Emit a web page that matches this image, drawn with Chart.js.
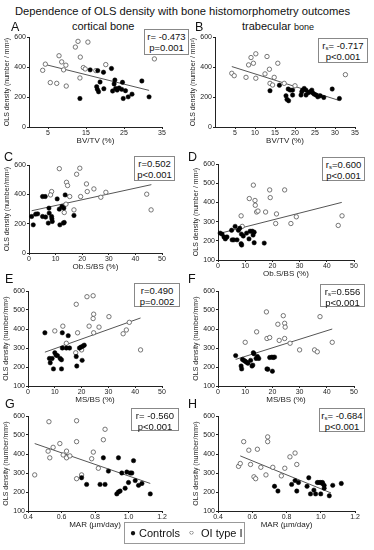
<!DOCTYPE html>
<html><head><meta charset="utf-8">
<script src="https://cdn.jsdelivr.net/npm/chart.js@4.4.0/dist/chart.umd.min.js"></script>
<style>
body{margin:0;background:#fff;width:374px;height:550px;position:relative;overflow:hidden;font-family:"Liberation Sans",Arial,sans-serif;color:#111;}
.abs{position:absolute;white-space:nowrap;line-height:1;}
canvas{position:absolute;}
.box{position:absolute;border:1px solid #888;background:#fff;font-size:9.5px;line-height:11px;text-align:center;box-sizing:border-box;padding-top:1px;white-space:nowrap;}
.box sub{font-size:6px;vertical-align:-1px;line-height:0;}
</style></head><body>
<script>
// ---------- data ----------
const aControls=[[13.4,190],[16.1,381],[18.1,376],[19.6,365],[17.8,269],[18,251],[18.3,235],[18.7,300],[19.7,255],[21.7,390],[22,240],[22.4,287],[22.6,313],[22.8,257],[23.2,246],[23.7,260],[24.4,251],[24.6,298],[24.8,190],[25.4,242],[26.1,201],[27.1,219],[29.7,307],[31.6,201]];
const aOI=[[3.6,378],[4.3,419],[5.6,296],[7.3,291],[7.9,475],[8.6,434],[9.1,381],[9.7,412],[9.8,273],[12.2,533],[12.9,571],[13.5,466],[13.4,327],[14.3,396],[14.8,387],[15.5,566],[17.6,376],[20.2,416],[33,454]];
const aFit=[[3.9,419],[31.6,244]];

const bControls=[[13.75,242],[16.1,278],[17.75,208],[18,184],[18.4,175],[18.3,253],[18.8,246],[19.4,213],[19.4,246],[21.5,213],[21.7,235],[21.9,246],[22.3,257],[22.75,246],[22.75,213],[23.3,228],[23.8,235],[24.2,246],[24.4,228],[24.8,219],[25.25,213],[25.7,201],[26.3,208],[27.2,197],[29.3,253],[31.1,190]];
const bOI=[[4.2,358],[4.8,342],[7.75,331],[8.4,414],[9,463],[9.6,425],[10.2,488],[10.2,325],[13,470],[12.5,354],[13.6,385],[13.75,291],[14.4,280],[14.8,331],[15.7,425],[17.3,291],[20,275],[32.6,349]];
const bFit=[[4.2,403],[30.8,179]];

const cControls=[[1,249],[1.6,192],[2.5,265],[3.25,267],[5.1,385],[5.1,249],[6.1,385],[6.25,245],[7.5,306],[7.6,272],[7.25,204],[8.5,249],[8.6,233],[8.75,215],[10.6,369],[11.4,299],[11.6,192],[12.4,317],[12.9,204],[13.1,306],[13.25,208],[13.6,396],[16.9,256]];
const cOI=[[11.4,575],[19.1,578],[8.5,419],[8.1,396],[14.1,482],[14.5,460],[17.9,537],[15.3,385],[19.4,385],[21.6,471],[21.9,419],[24.4,437],[27,380],[28.9,414],[13.9,333],[13.25,276],[16.9,294],[44.25,401],[45.9,294]];
const cFit=[[1,288],[46,466]];

const dControls=[[0.8,240],[1.5,235],[2.2,220],[2.7,210],[3.3,220],[5.2,205],[5.8,205],[5,255],[6.3,275],[7,205],[7.5,255],[8,265],[8.5,185],[8.7,178],[8.6,235],[9.3,225],[10.5,240],[11.4,210],[11.8,250],[12.6,250],[12.9,230],[13.3,245],[13.3,190],[17,188]];
const dOI=[[8.5,330],[8.9,275],[13,490],[11.5,420],[13.6,410],[13.7,385],[14.2,350],[14.7,355],[17.5,350],[19,465],[19.2,425],[21.5,340],[21.2,290],[24.5,465],[26.8,290],[28.8,325],[44.2,280],[45.6,330]];
const dFit=[[1,240],[45.5,400]];

const eControls=[[6.3,380],[8,245],[8.3,222],[9,245],[9.5,190],[10,275],[10.5,262],[11,260],[12,245],[12.5,238],[12.5,190],[12.8,380],[12.8,300],[15,365],[14.3,300],[18,255],[18.2,205],[19.2,300],[19.8,305],[20.5,310],[21,315],[20.2,235],[15.5,300]];
const eOI=[[10,390],[13,415],[13.7,305],[14.3,325],[18,530],[22,570],[24.3,575],[22.8,415],[24.5,478],[24.3,455],[24.5,380],[26.5,410],[30.2,465],[35.5,375],[36.7,395],[37.8,435],[42,290],[18.5,380],[17.8,275],[19.8,300],[20,290]];
const eFit=[[6.3,278],[42,458]];

const fControls=[[6.5,260],[8.5,205],[8.7,190],[9,240],[9.5,235],[10,230],[10.5,225],[11,220],[12,235],[12.5,205],[12.8,210],[13,275],[13.2,270],[14.5,255],[15,245],[18,190],[18.3,188],[19,250],[19.8,252],[20.3,250],[20.8,252],[20,178],[14,245]];
const fOI=[[10,330],[14.2,385],[17.8,490],[18,350],[19,355],[22,425],[22.5,340],[24,470],[24.5,430],[24.7,410],[24.5,350],[26.5,325],[30,290],[35.5,290],[36.5,280],[37.5,465],[42,330]];
const fFit=[[6.5,240],[42,400]];

const gControls=[[0.72,275],[0.75,240],[0.83,240],[0.85,380],[0.86,240],[0.88,310],[0.94,380],[0.93,190],[0.94,200],[0.96,300],[0.98,220],[0.99,305],[1.0,250],[1.01,300],[1.02,300],[1.03,365],[1.04,260],[1.06,235],[1.08,245],[1.13,190],[0.95,205]];
const gOI=[[0.44,290],[0.525,570],[0.59,455],[0.55,435],[0.52,415],[0.53,380],[0.61,395],[0.63,415],[0.63,380],[0.65,390],[0.69,575],[0.69,465],[0.69,270],[0.72,290],[0.78,375],[0.79,410],[0.82,325],[0.86,530],[0.85,475]];
const gFit=[[0.44,455],[1.13,245]];

const hControls=[[0.73,230],[0.75,205],[0.83,240],[0.85,260],[0.86,205],[0.87,250],[0.92,230],[0.93,275],[0.94,190],[0.96,210],[0.97,190],[0.98,250],[0.99,250],[1.0,250],[1.0,190],[1.01,250],[1.02,235],[1.05,180],[1.07,235],[1.12,245],[1.01,245],[1.02,220]];
const hOI=[[0.52,335],[0.53,350],[0.55,465],[0.58,420],[0.59,345],[0.61,280],[0.63,425],[0.62,270],[0.65,330],[0.68,290],[0.69,490],[0.69,465],[0.72,330],[0.77,285],[0.79,325],[0.82,385],[0.85,405],[0.86,345]];
const hFit=[[0.53,390],[1.06,195]];

const xTicksBV=[5,15,25,35];
const xTicksBVb=[5,10,15,20,25,30,35];
const xTicksPct=[0,10,20,30,40,50];
const xTicksMAR=[0.4,0.6,0.8,1.0,1.2];
const yTicks0=[0,200,400,600];
const yTicks100=[100,200,300,400,500,600];

// ---------- layout ----------
const panels=[
 {L:29,R:162,T:37,B:127,xr:[0,35],xt:xTicksBV,yr:[0,600],yt:yTicks0,xTitle:'BV/TV (%)',yTitle:'OLS density (number / mm²)',c:aControls,o:aOI,f:aFit,lab:'A',lx:11,ly:21,stat:['r= -0.473','p=0.001'],bx:[144,29,45,26]},
 {L:215,R:355,T:37,B:127,xr:[0,35],xt:xTicksBVb,yr:[0,600],yt:yTicks0,xTitle:'BV/TV (%)',yTitle:'OLS density (number / mm²)',c:bControls,o:bOI,f:bFit,lab:'B',lx:195,ly:21,stat:['r<sub>s</sub>= -0.717','p<0.001'],bx:[318,38,50,25]},
 {L:29,R:162,T:165,B:253,xr:[0,50],xt:xTicksPct,yr:[0,600],yt:yTicks0,xTitle:'Ob.S/BS (%)',yTitle:'OLS density (number/mm²)',c:cControls,o:cOI,f:cFit,lab:'C',lx:4,ly:151,stat:['r=0.502','p<0.001'],bx:[134,156,41,25]},
 {L:218,R:354,T:164,B:260,xr:[0,50],xt:xTicksPct,yr:[100,600],yt:yTicks100,xTitle:'Ob.S/BS (%)',yTitle:'OLS density (number / mm²)',c:dControls,o:dOI,f:dFit,lab:'D',lx:188,ly:151,stat:['r<sub>s</sub>=0.600','p<0.001'],bx:[322,157,43,24]},
 {L:28,R:162,T:291,B:386,xr:[0,50],xt:xTicksPct,yr:[100,600],yt:yTicks100,xTitle:'MS/BS (%)',yTitle:'OLS density (number/mm²)',c:eControls,o:eOI,f:eFit,lab:'E',lx:5,ly:273,stat:['r=0.490','p=0.002'],bx:[134,283,46,24]},
 {L:218,R:354,T:291,B:386,xr:[0,50],xt:xTicksPct,yr:[100,600],yt:yTicks100,xTitle:'MS/BS (%)',yTitle:'OLS density (number/mm²)',c:fControls,o:fOI,f:fFit,lab:'F',lx:188,ly:273,stat:['r<sub>s</sub>=0.556','p<0.001'],bx:[320,284,45,23]},
 {L:28,R:162,T:416,B:511,xr:[0.4,1.2],xt:xTicksMAR,yr:[100,600],yt:yTicks100,xTitle:'MAR (µm/day)',yTitle:'OLS density (number/mm²)',c:gControls,o:gOI,f:gFit,lab:'G',lx:5,ly:398,stat:['r= -0.560','p<0.001'],bx:[131,408,48,23]},
 {L:218,R:355,T:416,B:511,xr:[0.4,1.2],xt:xTicksMAR,yr:[100,600],yt:yTicks100,xTitle:'MAR (µm/day)',yTitle:'OLS density (number/mm²)',c:hControls,o:hOI,f:hFit,lab:'H',lx:188,ly:398,stat:['r<sub>s</sub>= -0.684','p<0.001'],bx:[319,408,46,24]}
];

function addText(html,x,y,size,extra){
  const d=document.createElement('div');d.className='abs';d.innerHTML=html;
  d.style.left=x+'px';d.style.top=y+'px';d.style.fontSize=size+'px';
  if(extra) Object.assign(d.style,extra);
  document.body.appendChild(d);return d;
}

addText('Dependence of OLS density with bone histomorphometry outcomes',15,6,11.2);
addText('cortical bone',72,21,11);
addText('trabecular <span style="font-size:9px">bone</span>',242,21,11);

const YW=29,PT=6,PR=9,XH=20;
const toPts=a=>a.map(p=>({x:p[0],y:p[1]}));

panels.forEach(p=>{
  const cv=document.createElement('canvas');
  const w=YW+(p.R-p.L)+PR,h=PT+(p.B-p.T)+XH;
  cv.width=w;cv.height=h;cv.style.left=(p.L-YW)+'px';cv.style.top=(p.T-PT)+'px';
  cv.style.width=w+'px';cv.style.height=h+'px';
  document.body.appendChild(cv);
  addText(p.lab,p.lx,p.ly,12.5);
  const b=document.createElement('div');b.className='box';
  b.style.left=p.bx[0]+'px';b.style.top=p.bx[1]+'px';b.style.width=p.bx[2]+'px';b.style.height=p.bx[3]+'px';
  b.innerHTML=p.stat[0]+'<br>'+p.stat[1];document.body.appendChild(b);
  const tickFont={size:7,family:'"Liberation Sans", Arial, sans-serif'};
  new Chart(cv,{
    type:'scatter',
    data:{datasets:[
      {label:'Controls',data:toPts(p.c),pointRadius:2.2,pointBackgroundColor:'#000',pointBorderColor:'#000',pointBorderWidth:0.5,clip:false},
      {label:'OI type I',data:toPts(p.o),pointRadius:2.2,pointBackgroundColor:'#fff',pointBorderColor:'#555',pointBorderWidth:0.8,clip:false},
      {type:'line',label:'fit',data:toPts(p.f),borderColor:'#555',borderWidth:1,pointRadius:0,fill:false}
    ]},
    options:{
      responsive:false,animation:false,devicePixelRatio:1,
      layout:{autoPadding:false,padding:{left:0,top:PT,right:PR,bottom:0}},
      plugins:{legend:{display:false},tooltip:{enabled:false}},
      scales:{
        x:{type:'linear',min:p.xr[0],max:p.xr[1],
          afterBuildTicks:s=>{s.ticks=p.xt.map(v=>({value:v}));},
          afterFit:s=>{s.height=XH;},
          grid:{drawOnChartArea:false,tickLength:2,color:'#222'},
          border:{color:'#222',width:1},
          ticks:{font:tickFont,color:'#222',padding:0,maxRotation:0,autoSkip:false,callback:v=>(p.xr[1]<2?v.toFixed(1):v)},
          title:{display:true,text:p.xTitle,font:{size:8,family:'"Liberation Sans", Arial, sans-serif'},color:'#222',padding:{top:0,bottom:1}}},
        y:{type:'linear',min:p.yr[0],max:p.yr[1],
          afterBuildTicks:s=>{s.ticks=p.yt.map(v=>({value:v}));},
          afterFit:s=>{s.width=YW;},
          grid:{drawOnChartArea:false,tickLength:2,color:'#222'},
          border:{color:'#222',width:1},
          ticks:{font:tickFont,color:'#222',padding:1,autoSkip:false},
          title:{display:true,text:p.yTitle,font:{size:7,family:'"Liberation Sans", Arial, sans-serif'},color:'#222',padding:{top:3,bottom:0}}}
      }
    }
  });
});

// legend
const lg=document.createElement('div');
lg.className='abs';
Object.assign(lg.style,{left:'124px',top:'522px',width:'121px',height:'22px',border:'1px solid #999',boxSizing:'border-box',fontSize:'11px',lineHeight:'20px'});
lg.innerHTML='<span style="position:absolute;left:5px;top:0;font-size:10px">●</span><span style="position:absolute;left:14px;top:0">Controls</span><span style="position:absolute;left:64px;top:0;font-size:8px">○</span><span style="position:absolute;left:76px;top:0">OI type I</span>';
document.body.appendChild(lg);
</script>
</body></html>
